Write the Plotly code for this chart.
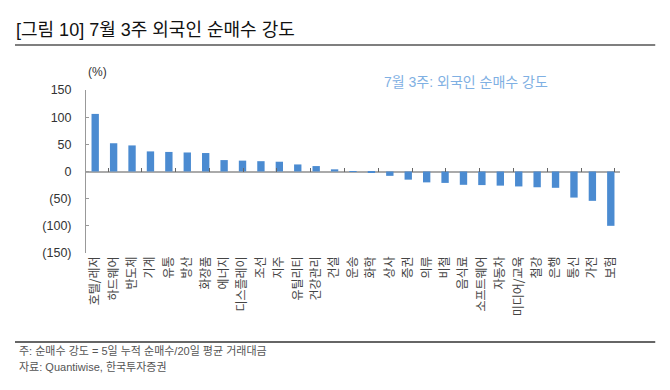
import plotly.graph_objects as go

categories = ["호텔/레저", "하드웨어", "반도체", "기계", "유통", "방산", "화장품", "에너지",
              "디스플레이", "조선", "지주", "유틸리티", "건강관리", "건설", "운송", "화학",
              "상사", "증권", "의류", "비철", "음식료", "소프트웨어", "자동차", "미디어/교육",
              "철강", "은행", "통신", "가전", "보험"]
values = [106, 52, 48, 37, 36, 35, 34, 21, 20, 19, 18, 13, 10, 4, 0.5, -2,
          -8, -15, -20, -21, -24.5, -25, -26, -27.5, -29, -30, -48, -54, -100]
y_tickvals = [150, 100, 50, 0, -50, -100, -150]
y_ticktext = ["150", "100", "50", "0", "(50)", "(100)", "(150)"]
series_name = "7월 3주: 외국인 순매수 강도"

FONT = "Liberation Sans, Noto Sans CJK KR"
BAR = "#4b8bd1"

fig = go.Figure()
fig.add_trace(go.Bar(x=categories, y=values, marker_color=BAR, marker_line_width=0,
                     width=0.4, name=series_name, showlegend=False))
# invisible trace to activate the overlay axis carrying category boundary ticks
fig.add_trace(go.Scatter(x=categories, y=values, xaxis="x2", mode="markers",
                         marker=dict(opacity=0), showlegend=False, hoverinfo="skip"))

fig.update_layout(
    width=662, height=382,
    margin=dict(l=78, r=50, t=82, b=137),
    paper_bgcolor="white", plot_bgcolor="white",
    font=dict(family=FONT, color="#333333", size=12),
    xaxis=dict(type="category", showline=False, ticks="", tickangle=-90,
               tickfont=dict(size=12, color="#444444", family="Noto Sans CJK KR"),
               showgrid=False, zeroline=False),
    xaxis2=dict(type="category", overlaying="x", anchor="free", position=0.5,
                side="bottom", showline=False, ticks="inside", ticklen=4, tickwidth=1,
                tickcolor="#666666", tickson="boundaries", dtick=2,
                showticklabels=False, showgrid=False, zeroline=False),
    yaxis=dict(range=[-150, 150], tickvals=y_tickvals, ticktext=y_ticktext,
               showline=True, linecolor="#999999", linewidth=1,
               ticks="inside", ticklen=3, tickcolor="#999999",
               showgrid=False, zeroline=True, zerolinecolor="#aaaaaa", zerolinewidth=1.5,
               tickfont=dict(size=12.5, color="#333333"), ticklabelstandoff=11),
)

fig.add_annotation(text="[그림 10] 7월 3주 외국인 순매수 강도", xref="paper", yref="paper",
                   x=-0.135, y=1.37, xanchor="left", yanchor="middle", showarrow=False,
                   font=dict(size=18, color="#111111"))
fig.add_annotation(text="(%)", xref="paper", yref="paper", x=0.0, y=1.11,
                   xanchor="left", yanchor="middle", showarrow=False,
                   font=dict(size=12, color="#333333"))
fig.add_annotation(text=series_name, xref="paper", yref="paper", x=0.555, y=1.05,
                   xanchor="left", yanchor="middle", showarrow=False,
                   font=dict(size=14, color="#7fb0e3"))
fig.add_annotation(text="주: 순매수 강도 = 5일 누적 순매수/20일 평균 거래대금", xref="paper", yref="paper",
                   x=-0.13, y=-0.60, xanchor="left", yanchor="middle", showarrow=False,
                   font=dict(size=11, color="#555555"))
fig.add_annotation(text="자료: Quantiwise, 한국투자증권", xref="paper", yref="paper",
                   x=-0.13, y=-0.70, xanchor="left", yanchor="middle", showarrow=False,
                   font=dict(size=11, color="#555555"))

fig.add_shape(type="line", xref="paper", yref="paper", x0=-0.133, x1=1.066, y0=1.276, y1=1.276,
              line=dict(color="#555555", width=1.5))
fig.add_shape(type="line", xref="paper", yref="paper", x0=-0.133, x1=1.066, y0=-0.546, y1=-0.546,
              line=dict(color="#333333", width=1.5))

fig.write_html("out.html")
